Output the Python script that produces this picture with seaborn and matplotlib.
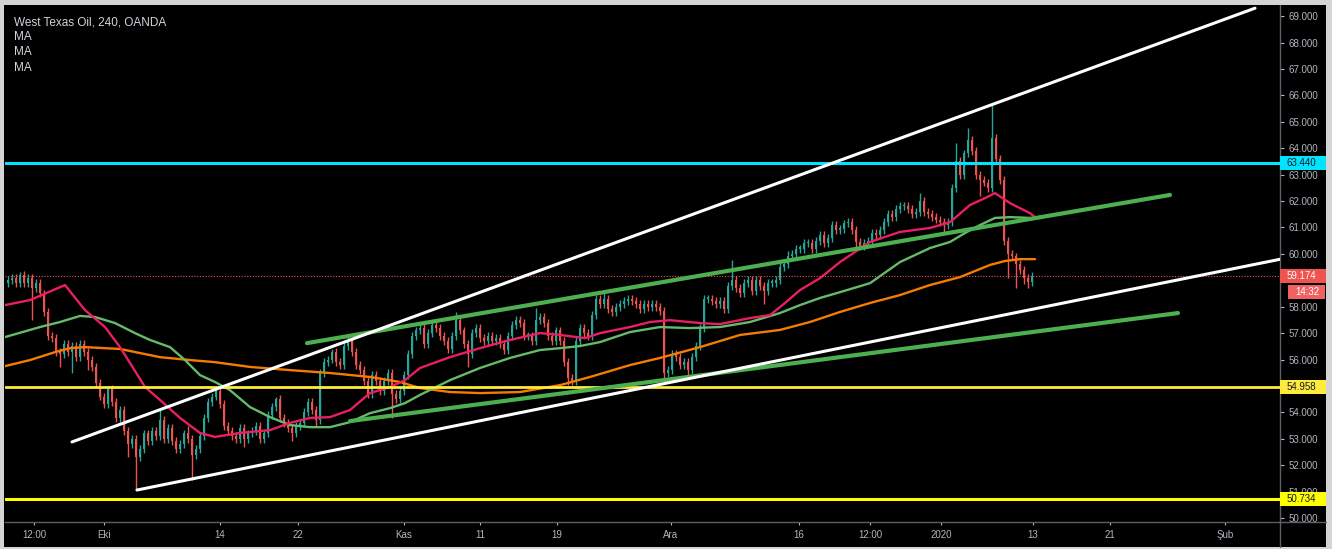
import numpy as np
import pandas as pd
import matplotlib
matplotlib.use("Agg")
import matplotlib.pyplot as plt
import matplotlib.transforms as mtransforms
from matplotlib.patches import Rectangle
from matplotlib.lines import Line2D
import seaborn as sns

# ---------------- data ----------------
first_open = 58.9
closes = [
    59.0, 59.1, 58.9, 59.2, 58.9, 59.1, 58.7, 58.9, 58.5, 57.8,
    56.9, 56.8, 56.3, 56.2, 56.6, 56.3, 56.5, 56.1, 56.6, 56.3,
    56.0, 55.7, 55.1, 54.6, 54.3, 54.9, 54.4, 53.8, 54.1, 53.3,
    52.8, 53.0, 52.3, 52.6, 53.2, 52.9, 53.3, 53.1, 53.7, 53.0,
    53.4, 52.9, 52.6, 52.8, 53.2, 53.0, 52.4, 52.6, 53.1, 53.8,
    54.4, 54.6, 54.8, 54.3, 53.5, 53.3, 53.1, 53.0, 53.4, 53.0,
    53.2, 53.3, 53.5, 53.0, 53.2, 53.9, 54.2, 54.5, 53.8, 53.6,
    53.4, 53.2, 53.5, 53.6, 54.0, 54.4, 54.1, 53.7, 55.5, 55.9,
    56.0, 56.3, 55.9, 55.8, 56.5, 56.7, 56.3, 55.8, 55.6, 55.2,
    54.7, 55.4, 55.2, 54.8, 55.2, 55.5, 54.7, 54.5, 54.8, 55.4,
    56.2, 56.9, 57.1, 57.2, 56.6, 57.0, 57.3, 57.2, 56.9, 56.7,
    56.4, 56.9, 57.5, 57.1, 56.6, 56.2, 57.0, 57.2, 56.8, 56.7,
    56.9, 56.7, 56.8, 56.6, 56.35, 56.9, 57.3, 57.5, 57.4, 56.9,
    56.9, 56.7, 57.5, 57.6, 57.4, 56.9, 56.7, 57.1, 56.7, 55.9,
    55.3, 55.2, 56.7, 57.2, 57.0, 56.9, 57.7, 58.3, 58.1, 58.3,
    57.9, 57.8, 58.0, 58.1, 58.2, 58.3, 58.2, 58.1, 57.9, 58.1,
    58.0, 58.1, 58.0, 57.85, 55.5, 55.6, 56.2, 56.1, 55.8, 55.9,
    55.6, 56.1, 56.5, 57.2, 58.3, 58.3, 58.2, 58.1, 58.2, 57.9,
    58.8, 59.0, 58.7, 58.5, 58.9, 59.0, 58.6, 59.0, 58.8, 58.6,
    58.9, 58.9, 59.0, 59.5, 59.6, 59.9, 60.0, 60.2, 60.2, 60.4,
    60.4, 60.2, 60.5, 60.7, 60.4, 60.6, 61.1, 60.9, 60.95, 61.15,
    61.2, 60.9, 60.45, 60.3, 60.4, 60.5, 60.8, 60.7, 60.9, 61.2,
    61.5, 61.4, 61.7, 61.8, 61.8, 61.7, 61.5, 61.6, 62.0, 61.6,
    61.5, 61.4, 61.3, 61.2, 61.1, 61.2, 62.5, 63.5, 63.0, 63.8,
    64.3, 63.9, 63.0, 62.8, 62.7, 62.5, 64.4, 63.6, 62.8, 60.5,
    60.0, 59.9, 59.6, 59.4, 59.1, 58.95, 59.174,
]
# notable wick extremes (bar index -> price)
highs_marked = {3: 59.3, 25: 55.0, 38: 54.1, 45: 53.5, 52: 54.95, 67: 54.6,
                81: 56.4, 84: 56.65, 112: 57.8, 132: 57.95, 149: 58.55,
                181: 59.75, 195: 60.1, 206: 61.25, 228: 62.3, 237: 64.2,
                240: 64.75, 246: 65.65}
lows_marked = {6: 57.5, 13: 55.7, 16: 55.5, 20: 55.6, 30: 52.3, 32: 51.06,
               46: 51.45, 59: 52.7, 71: 52.9, 77: 53.5, 96: 53.8, 115: 55.7,
               140: 55.05, 164: 55.1, 170: 55.3, 189: 58.1, 212: 60.2,
               234: 60.75, 243: 62.2, 250: 59.1, 252: 58.7, 254: 58.85,
               255: 58.7}

# moving averages (bar position, price)
ma_red_x = [-0.75, 5.5, 14.25, 19.25, 24.25, 28, 30.5, 34.25, 38, 43, 48, 51.75,
            58, 65.5, 70.5, 75.5, 80.5, 85.5, 90.5, 95.5, 99.25, 103, 110.5,
            118, 125.5, 133, 138, 144.25, 148, 155.5, 160.5, 165.5, 173, 178,
            185.5, 190.5, 194.25, 198, 203, 208, 215.5, 223, 230.5, 235.5,
            240.5, 244.25, 246.75, 250.5, 255.5, 256.75]
ma_red_y = [58.06, 58.25, 58.82, 57.87, 57.23, 56.47, 55.87, 54.96, 54.47, 53.79,
            53.22, 53.07, 53.22, 53.33, 53.60, 53.79, 53.82, 54.09, 54.73, 54.96,
            55.22, 55.68, 56.09, 56.43, 56.74, 57.00, 56.93, 56.81, 57.00, 57.23,
            57.42, 57.49, 57.38, 57.34, 57.57, 57.68, 58.14, 58.63, 59.08, 59.69,
            60.45, 60.83, 60.98, 61.20, 61.85, 62.11, 62.30, 61.92, 61.54, 61.39]
ma_green_x = [-0.75, 8, 13, 18, 21.75, 26.75, 31.75, 35.5, 40.5, 44.25, 48, 51.75,
              55.5, 60.5, 65.5, 70.5, 75.5, 80.5, 85.5, 90.5, 95.5, 99.25, 103,
              110.5, 118, 125.5, 133, 138, 143, 148, 155.5, 163, 170.5, 178,
              185.5, 193, 198, 203, 208, 215.5, 223, 230.5, 235.5, 239.25, 243,
              246.75, 250.5, 255.5, 256.75]
ma_green_y = [56.85, 57.23, 57.42, 57.65, 57.61, 57.38, 57.00, 56.74, 56.47, 55.98,
              55.41, 55.15, 54.84, 54.20, 53.82, 53.52, 53.44, 53.44, 53.63, 53.97,
              54.16, 54.35, 54.66, 55.22, 55.68, 56.06, 56.36, 56.43, 56.51, 56.66,
              57.04, 57.23, 57.19, 57.23, 57.42, 57.76, 58.06, 58.33, 58.55, 58.89,
              59.69, 60.22, 60.45, 60.79, 61.09, 61.36, 61.39, 61.36, 61.32]
ma_orange_x = [-0.75, 5.5, 11.75, 15.5, 19.25, 28, 38, 45.5, 51.75, 60.5, 70.5,
               80.5, 90.5, 98, 103, 110.5, 118, 128, 138, 145.5, 155.5, 163, 173,
               183, 193, 200.5, 208, 215.5, 223, 230.5, 238, 245.5, 249.25, 253,
               256.75]
ma_orange_y = [55.75, 55.98, 56.28, 56.43, 56.47, 56.40, 56.09, 55.98, 55.90, 55.72,
               55.60, 55.49, 55.34, 55.15, 54.92, 54.77, 54.73, 54.77, 55.03, 55.34,
               55.79, 56.06, 56.47, 56.93, 57.12, 57.42, 57.80, 58.14, 58.44, 58.82,
               59.12, 59.58, 59.73, 59.80, 59.80]

# drawn trend lines: (x0, y0, x1, y1)
white_lines = [(16, 52.88, 311.75, 69.30), (32.25, 51.06, 318.5, 59.81)]
green_lines = [(74.75, 56.62, 290.5, 62.23), (85.5, 53.67, 292.5, 57.76)]

# horizontal levels
level_cyan = 63.44
level_yellow_hi = 54.958
level_yellow_lo = 50.734
last_price = 59.174
countdown = "14:32"

price_ticks = list(range(50, 70))
hidden_price_ticks = [59]          # covered by the last-price tag
date_tick_pos = [6.5, 24, 53, 72.5, 99, 118, 137.25, 165.75, 197.75, 215.5,
                 233.25, 256.25, 275.5, 304.25]
date_tick_labels = ["12:00", "Eki", "14", "22", "Kas", "11", "19", "Ara", "16",
                    "12:00", "2020", "13", "21", "Şub"]

# ---------------- style ----------------
sns.set_theme(style="dark")
plt.rcParams['font.family'] = ['Liberation Sans', 'DejaVu Sans']

W, H = 1332, 549
fig = plt.figure(figsize=(W / 100, H / 100), dpi=100, facecolor='#d4d4d4')
fx = lambda px: px / W
fy = lambda py: 1 - py / H

bg = Rectangle((fx(4), fy(547)), fx(1326) - fx(4), fy(5) - fy(547),
               transform=fig.transFigure, fc='black', ec='none', zorder=-10)
fig.add_artist(bg)
ax = fig.add_axes([fx(5), fy(522), fx(1280) - fx(5), fy(5) - fy(522)])
ax.set_zorder(1)
ax.set_facecolor('black')
ax.grid(False)

UP, DOWN = '#26a69a', '#ef5350'
n = len(closes)
xs = np.arange(n)
opens = [first_open] + closes[:-1]
o = np.array(opens)
c = np.array(closes)
hi = np.maximum(o, c) + 0.15
lo = np.minimum(o, c) - 0.15
for k, v in highs_marked.items():
    hi[k] = v
for k, v in lows_marked.items():
    lo[k] = v
cols = [UP if cc >= oo else DOWN for oo, cc in zip(o, c)]
ax.vlines(xs, lo, hi, colors=cols, linewidth=1.0, zorder=2)
body = np.maximum(np.abs(c - o), 0.06)
ax.bar(xs, body, bottom=np.minimum(o, c), width=0.72, color=cols, linewidth=0, zorder=3)

for mx, my, col in [(ma_orange_x, ma_orange_y, '#f57c00'),
                    (ma_green_x, ma_green_y, '#66bb6a'),
                    (ma_red_x, ma_red_y, '#e91e63')]:
    df = pd.DataFrame({'x': mx, 'y': my})
    sns.lineplot(data=df, x='x', y='y', ax=ax, color=col, linewidth=1.7,
                 estimator=None, sort=False, legend=False, zorder=4)

# current price dotted line
ax.axhline(last_price, color='#ef5350', linewidth=0.8, linestyle=(0, (1, 1.5)), zorder=4)
# horizontal levels
ax.axhline(level_cyan, color='#00e5ff', linewidth=2.2, zorder=5)
ax.axhline(level_yellow_hi, color='#ffeb3b', linewidth=2.0, zorder=5)
ax.axhline(level_yellow_lo, color='#ffff00', linewidth=2.2, zorder=5)

for (x0, y0, x1, y1) in green_lines:
    df = pd.DataFrame({'x': [x0, x1], 'y': [y0, y1]})
    sns.lineplot(data=df, x='x', y='y', ax=ax, color='#4caf50', linewidth=3.0,
                 estimator=None, sort=False, legend=False, zorder=6)
for (x0, y0, x1, y1) in white_lines:
    df = pd.DataFrame({'x': [x0, x1], 'y': [y0, y1]})
    sns.lineplot(data=df, x='x', y='y', ax=ax, color='white', linewidth=2.2,
                 estimator=None, sort=False, legend=False, zorder=6)

ax.set_xlim(-0.75, 318)
ax.set_ylim(49.85, 69.42)
ax.set_xlabel('')
ax.set_ylabel('')

ax.yaxis.tick_right()
ax.set_yticks(price_ticks)
ax.set_yticklabels(["" if t in hidden_price_ticks else f"{t:.3f}" for t in price_ticks])
ax.set_xticks(date_tick_pos)
ax.set_xticklabels(date_tick_labels)
ax.tick_params(axis='y', right=True, left=False, colors='#b2b5be', labelsize=7,
               length=3, width=0.8, pad=3)
ax.tick_params(axis='x', bottom=True, colors='#b2b5be', labelsize=7,
               length=2.5, width=0.8, pad=3.5)
for s in ['top', 'left']:
    ax.spines[s].set_visible(False)
for s in ['right', 'bottom']:
    ax.spines[s].set_color('#5d606b')
    ax.spines[s].set_linewidth(1.0)

fig.add_artist(Line2D([fx(1280), fx(1326)], [fy(522), fy(522)], color='#5d606b', lw=1.0))
fig.add_artist(Line2D([fx(1280), fx(1280)], [fy(522), fy(547)], color='#5d606b', lw=1.0))

# right-axis value labels
blend = mtransforms.blended_transform_factory(ax.transAxes, ax.transData)
px = 1.0 / 1275
half = 7 / 26.42
def price_box(y, text, fc, tc, x0=0.0, x1=46, yc=None):
    yc = y if yc is None else yc
    ax.add_patch(Rectangle((1.0 + x0 * px, yc - half), (x1 - x0) * px, 2 * half,
                           transform=blend, fc=fc, ec='none', clip_on=False, zorder=20))
    ax.text(1.0 + (x0 + 7) * px, yc, text, transform=blend, ha='left', va='center',
            fontsize=7, color=tc, clip_on=False, zorder=21)

price_box(level_cyan, f"{level_cyan:.3f}", '#00e5ff', '#131722')
price_box(last_price, f"{last_price:.3f}", '#ef5350', 'white')
price_box(last_price, countdown, '#f06262', 'white', x0=8, x1=45,
          yc=last_price - 16 / 26.42)
price_box(level_yellow_hi, f"{level_yellow_hi:.3f}", '#ffeb3b', '#131722')
price_box(level_yellow_lo, f"{level_yellow_lo:.3f}", '#ffff00', '#131722')

# header texts
ax.text(0.007, 0.967, "West Texas Oil, 240, OANDA", transform=ax.transAxes,
        ha='left', va='center', fontsize=8.5, color='#d1d4dc', zorder=30)
for yy in [0.938, 0.909, 0.879]:
    ax.text(0.007, yy, "MA", transform=ax.transAxes, ha='left', va='center',
            fontsize=8.5, color='#d1d4dc', zorder=30)

fig.savefig("out.png", dpi=100, facecolor=fig.get_facecolor())
